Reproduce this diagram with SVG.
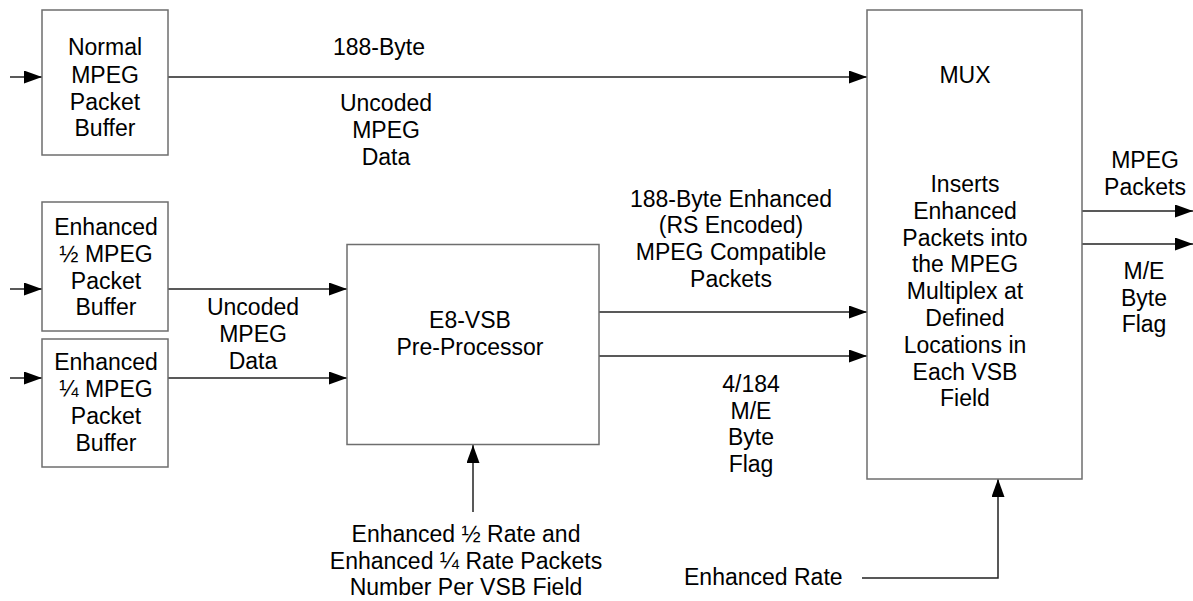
<svg xmlns="http://www.w3.org/2000/svg" width="1193" height="601" viewBox="0 0 1193 601">
<style>
.box{fill:#fff;stroke:#6e6e6e;stroke-width:1.5}
.ln{fill:none;stroke:#222;stroke-width:1.5}
text{font-family:"Liberation Sans",Arial,sans-serif;font-size:23px;fill:#000}
.c{text-anchor:middle}
</style>
<defs>
<marker id="ah" markerUnits="userSpaceOnUse" markerWidth="18" markerHeight="13" refX="18" refY="6.5" orient="auto">
<path d="M0,0 L18,6.5 L0,13 z" fill="#000"/>
</marker>
</defs>
<rect width="1193" height="601" fill="#fff"/>
<g id="connectors">
<line class="ln" x1="10" y1="77" x2="42" y2="77" marker-end="url(#ah)"/>
<line class="ln" x1="10" y1="289" x2="42" y2="289" marker-end="url(#ah)"/>
<line class="ln" x1="10" y1="378" x2="42" y2="378" marker-end="url(#ah)"/>
<line class="ln" x1="168" y1="77" x2="867" y2="77" marker-end="url(#ah)"/>
<line class="ln" x1="168" y1="289" x2="347" y2="289" marker-end="url(#ah)"/>
<line class="ln" x1="168" y1="378" x2="347" y2="378" marker-end="url(#ah)"/>
<line class="ln" x1="599" y1="312" x2="867" y2="312" marker-end="url(#ah)"/>
<line class="ln" x1="599" y1="356" x2="867" y2="356" marker-end="url(#ah)"/>
<line class="ln" x1="1082" y1="211" x2="1193" y2="211" marker-end="url(#ah)"/>
<line class="ln" x1="1082" y1="244" x2="1193" y2="244" marker-end="url(#ah)"/>
<line class="ln" x1="473" y1="512" x2="473" y2="445" marker-end="url(#ah)"/>
<polyline class="ln" points="862,578 998,578 998,479" marker-end="url(#ah)"/>
</g>
<g id="normal-buffer">
<rect class="box" x="42" y="10" width="126" height="145"/>
<text class="c" x="105" y="55">Normal</text>
<text class="c" x="105" y="82.5">MPEG</text>
<text class="c" x="105" y="109.5">Packet</text>
<text class="c" x="105" y="136">Buffer</text>
</g>
<g id="half-buffer">
<rect class="box" x="42" y="202" width="126" height="129"/>
<text class="c" x="106" y="235">Enhanced</text>
<text class="c" x="106" y="262">½ MPEG</text>
<text class="c" x="106" y="288.5">Packet</text>
<text class="c" x="106" y="315">Buffer</text>
</g>
<g id="quarter-buffer">
<rect class="box" x="42" y="339" width="126" height="128"/>
<text class="c" x="106" y="370">Enhanced</text>
<text class="c" x="106" y="397">¼ MPEG</text>
<text class="c" x="106" y="424">Packet</text>
<text class="c" x="106" y="451">Buffer</text>
</g>
<g id="preprocessor">
<rect class="box" x="347" y="244.5" width="252" height="200"/>
<text class="c" x="470" y="328">E8-VSB</text>
<text class="c" x="470" y="355">Pre-Processor</text>
</g>
<g id="mux">
<rect class="box" x="867" y="10" width="215" height="469"/>
<text class="c" x="965" y="83">MUX</text>
<text class="c" x="965" y="192">Inserts</text>
<text class="c" x="965" y="218.8">Enhanced</text>
<text class="c" x="965" y="245.6">Packets into</text>
<text class="c" x="965" y="272.4">the MPEG</text>
<text class="c" x="965" y="299.2">Multiplex at</text>
<text class="c" x="965" y="326">Defined</text>
<text class="c" x="965" y="352.8">Locations in</text>
<text class="c" x="965" y="379.6">Each VSB</text>
<text class="c" x="965" y="406.4">Field</text>
</g>
<g id="labels">
<text class="c" x="379" y="55">188-Byte</text>
<text class="c" x="386" y="110.5">Uncoded</text>
<text class="c" x="386" y="137.5">MPEG</text>
<text class="c" x="386" y="164.5">Data</text>
<text class="c" x="253" y="315">Uncoded</text>
<text class="c" x="253" y="342">MPEG</text>
<text class="c" x="253" y="368.5">Data</text>
<text class="c" x="731" y="206.5">188-Byte Enhanced</text>
<text class="c" x="731" y="233">(RS Encoded)</text>
<text class="c" x="731" y="260">MPEG Compatible</text>
<text class="c" x="731" y="286.5">Packets</text>
<text class="c" x="751" y="391.5">4/184</text>
<text class="c" x="751" y="418.5">M/E</text>
<text class="c" x="751" y="445">Byte</text>
<text class="c" x="751" y="471.5">Flag</text>
<text class="c" x="466" y="541.5">Enhanced ½ Rate and</text>
<text class="c" x="466" y="568.5">Enhanced ¼ Rate Packets</text>
<text class="c" x="466" y="595">Number Per VSB Field</text>
<text x="684" y="585">Enhanced Rate</text>
<text class="c" x="1145" y="167.5">MPEG</text>
<text class="c" x="1145" y="194.5">Packets</text>
<text class="c" x="1144" y="279">M/E</text>
<text class="c" x="1144" y="305.5">Byte</text>
<text class="c" x="1144" y="332">Flag</text>
</g>
</svg>
